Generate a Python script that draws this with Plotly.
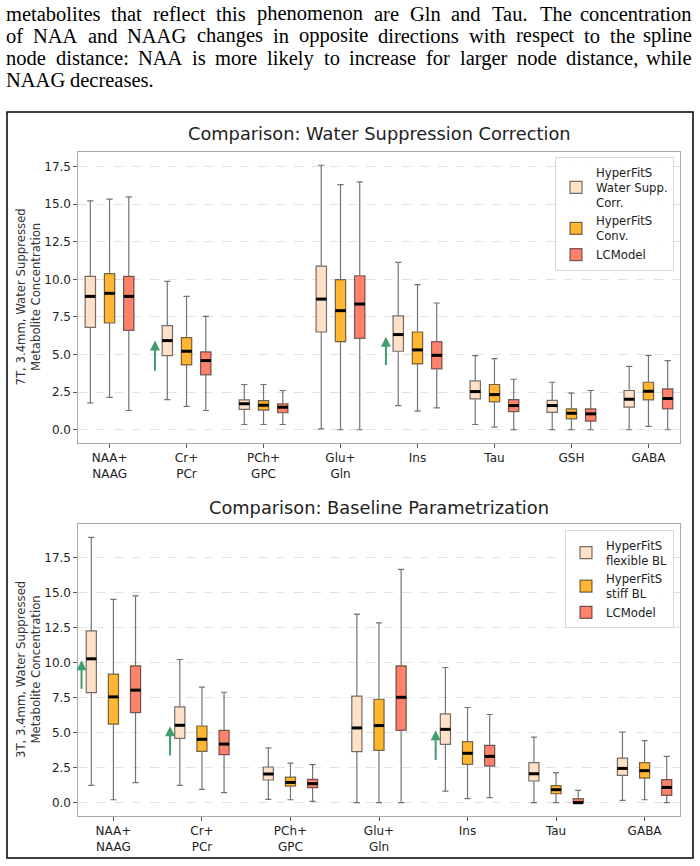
import plotly.graph_objects as go

W, H = 700, 866

# ------------------------------------------------------------------ data
para_lines = [
    "metabolites that reflect this phenomenon are Gln and Tau. The concentration",
    "of NAA and NAAG changes in opposite directions with respect to the spline",
    "node distance: NAA is more likely to increase for larger node distance, while",
    "NAAG decreases.",
]

top_title = "Comparison: Water Suppression Correction"
bot_title = "Comparison: Baseline Parametrization"
top_ylabel = "7T, 3.4mm, Water Suppressed<br>Metabolite Concentration"
bot_ylabel = "3T, 3.4mm, Water Suppressed<br>Metabolite Concentration"

top_categories = ["NAA+<br>NAAG", "Cr+<br>PCr", "PCh+<br>GPC", "Glu+<br>Gln", "Ins", "Tau", "GSH", "GABA"]
top_names = ["HyperFitS<br>Water Supp.<br>Corr.", "HyperFitS<br>Conv.", "LCModel"]

top_wsc_low = [1.79, 2.01, 0.35, 0.06, 1.61, 0.35, 0.00, 0.00]
top_wsc_q1 = [6.81, 4.93, 1.35, 6.50, 5.22, 2.06, 1.15, 1.50]
top_wsc_med = [8.87, 5.93, 1.73, 8.69, 6.33, 2.54, 1.61, 2.03]
top_wsc_q3 = [10.20, 6.92, 1.99, 10.88, 7.57, 3.25, 1.95, 2.61]
top_wsc_high = [15.22, 9.87, 3.01, 17.59, 11.13, 4.93, 3.16, 4.22]

top_conv_low = [2.16, 1.55, 0.35, 0.00, 1.24, 0.18, 0.00, 0.22]
top_conv_q1 = [7.10, 4.31, 1.30, 5.86, 4.38, 1.86, 0.73, 1.99]
top_conv_med = [9.07, 5.22, 1.63, 7.92, 5.31, 2.34, 1.10, 2.56]
top_conv_q3 = [10.38, 6.13, 1.94, 9.98, 6.50, 3.01, 1.39, 3.16]
top_conv_high = [15.33, 8.87, 3.01, 16.30, 9.65, 4.73, 2.43, 4.95]

top_lcm_low = [1.28, 1.28, 0.35, 0.00, 1.46, 0.00, 0.00, 0.00]
top_lcm_q1 = [6.61, 3.65, 1.13, 6.08, 4.05, 1.21, 0.57, 1.39]
top_lcm_med = [8.87, 4.60, 1.50, 8.36, 4.95, 1.61, 1.06, 2.08]
top_lcm_q3 = [10.20, 5.18, 1.73, 10.24, 5.86, 2.01, 1.39, 2.72]
top_lcm_high = [15.49, 7.54, 2.61, 16.48, 8.43, 3.36, 2.61, 4.60]

bot_categories = ["NAA+<br>NAAG", "Cr+<br>PCr", "PCh+<br>GPC", "Glu+<br>Gln", "Ins", "Tau", "GABA"]
bot_names = ["HyperFitS<br>flexible BL", "HyperFitS<br>stiff BL", "LCModel"]

bot_flex_low = [1.24, 1.24, 0.24, 0.00, 0.83, 0.00, 0.16]
bot_flex_q1 = [7.87, 4.60, 1.62, 3.65, 4.17, 1.55, 1.95]
bot_flex_med = [10.28, 5.53, 2.05, 5.34, 5.24, 2.07, 2.45]
bot_flex_q3 = [12.28, 6.84, 2.55, 7.61, 6.34, 2.86, 3.19]
bot_flex_high = [18.96, 10.23, 3.91, 13.47, 9.66, 4.69, 5.05]

bot_stiff_low = [0.21, 0.95, 0.21, 0.00, 0.29, 0.00, 0.21]
bot_stiff_q1 = [5.62, 3.67, 1.19, 3.74, 2.74, 0.64, 1.76]
bot_stiff_med = [7.56, 4.53, 1.45, 5.51, 3.53, 0.93, 2.29]
bot_stiff_q3 = [9.18, 5.48, 1.83, 7.39, 4.36, 1.22, 2.86]
bot_stiff_high = [14.52, 8.25, 2.83, 12.85, 6.80, 2.15, 4.44]

bot_lcm_low = [1.43, 0.72, 0.09, 0.00, 0.36, 0.00, 0.00]
bot_lcm_q1 = [6.44, 3.43, 1.07, 5.17, 2.62, 0.00, 0.52]
bot_lcm_med = [8.04, 4.19, 1.36, 7.53, 3.31, 0.00, 1.09]
bot_lcm_q3 = [9.78, 5.17, 1.67, 9.78, 4.10, 0.29, 1.65]
bot_lcm_high = [14.78, 7.89, 2.72, 16.67, 6.30, 0.88, 3.31]

# green "increase" arrows: category index, tail value, head value
top_arrow_cat = [1, 4]
top_arrow_tail = [3.82, 4.20]
top_arrow_head = [5.93, 6.19]
bot_arrow_cat = [0, 1, 4]
bot_arrow_tail = [8.04, 3.26, 2.95]
bot_arrow_head = [10.18, 5.46, 5.17]

# ------------------------------------------------------------------ style
colors = ["#FFE1C7", "#FFB733", "#FF826C"]
offsets = [-0.25, 0.0, 0.25]
FONT = "DejaVu Sans"

fig = go.Figure()


def add_panel(series, names, xa, ya, legend, width):
    for k, (low, q1, med, q3, high) in enumerate(series):
        pos = [i + offsets[k] for i in range(len(med))]
        fig.add_trace(go.Box(
            x=pos, q1=q1, median=med, q3=q3, lowerfence=low, upperfence=high,
            name=names[k], fillcolor=colors[k],
            line=dict(color="rgba(0,0,0,0.55)", width=1.2),
            width=width, whiskerwidth=0.6, boxpoints=False,
            xaxis=xa, yaxis=ya, legend=legend, hoverinfo="skip",
        ))
    for k, (low, q1, med, q3, high) in enumerate(series):
        pos = [i + offsets[k] for i in range(len(med))]
        mx, my = [], []
        for p, m in zip(pos, med):
            mx += [p - width / 2, p + width / 2, None]
            my += [m, m, None]
        fig.add_trace(go.Scatter(
            x=mx, y=my, mode="lines", line=dict(color="black", width=3),
            showlegend=False, xaxis=xa, yaxis=ya, hoverinfo="skip",
        ))


add_panel([
    (top_wsc_low, top_wsc_q1, top_wsc_med, top_wsc_q3, top_wsc_high),
    (top_conv_low, top_conv_q1, top_conv_med, top_conv_q3, top_conv_high),
    (top_lcm_low, top_lcm_q1, top_lcm_med, top_lcm_q3, top_lcm_high),
], top_names, "x", "y", "legend", 0.135)

add_panel([
    (bot_flex_low, bot_flex_q1, bot_flex_med, bot_flex_q3, bot_flex_high),
    (bot_stiff_low, bot_stiff_q1, bot_stiff_med, bot_stiff_q3, bot_stiff_high),
    (bot_lcm_low, bot_lcm_q1, bot_lcm_med, bot_lcm_q3, bot_lcm_high),
], bot_names, "x2", "y2", "legend2", 0.115)

axis_common = dict(
    showline=True, linecolor="#a8a8a8", linewidth=1.2, mirror=True,
    ticks="outside", ticklen=3.5, tickcolor="#555", tickwidth=1,
    zeroline=False, tickfont=dict(size=12, color="#222", family=FONT),
)
ygrid = dict(showgrid=True, gridcolor="#e2e2e2", griddash="dash", gridwidth=0.8,
             tick0=0, dtick=2.5, tickformat=".1f")

xdom = [78 / W, 680 / W]
fig.update_layout(
    width=W, height=H, margin=dict(l=0, r=0, t=0, b=0),
    paper_bgcolor="white", plot_bgcolor="white",
    font=dict(family=FONT, color="#222"),
    boxmode="overlay",
    xaxis=dict(domain=xdom, range=[-0.41, 7.41], tickvals=list(range(len(top_categories))),
               ticktext=top_categories, showgrid=False, anchor="y", **axis_common),
    yaxis=dict(domain=[1 - 443 / H, 1 - 152 / H], range=[-0.88, 18.47], anchor="x",
               **ygrid, **axis_common),
    xaxis2=dict(domain=xdom, range=[-0.40, 6.40], tickvals=list(range(len(bot_categories))),
                ticktext=bot_categories, showgrid=False, anchor="y2", **axis_common),
    yaxis2=dict(domain=[1 - 816 / H, 1 - 524 / H], range=[-0.95, 19.91], anchor="x2",
                **ygrid, **axis_common),
    legend=dict(x=674 / W, y=1 - 157 / H, xanchor="right", yanchor="top",
                bgcolor="rgba(255,255,255,0.9)", bordercolor="#d8d8d8", borderwidth=1,
                font=dict(size=11.7, color="#222", family=FONT), tracegroupgap=0),
    legend2=dict(x=674 / W, y=1 - 530 / H, xanchor="right", yanchor="top",
                 bgcolor="rgba(255,255,255,0.9)", bordercolor="#d8d8d8", borderwidth=1,
                 font=dict(size=11.7, color="#222", family=FONT), tracegroupgap=0),
)

annotations = []

# ---- paragraph text, justified word by word (Times/Liberation Serif advance widths)
TW = {" ": .25, ".": .25, ",": .25, ":": .278,
      "a": .444, "b": .5, "c": .444, "d": .5, "e": .444, "f": .333, "g": .5, "h": .5,
      "i": .278, "j": .278, "k": .5, "l": .278, "m": .778, "n": .5, "o": .5, "p": .5,
      "q": .5, "r": .333, "s": .389, "t": .278, "u": .5, "v": .5, "w": .722, "x": .5,
      "y": .5, "z": .444, "A": .722, "G": .722, "N": .722, "T": .611}
PSIZE = 20.5
P_LEFT, P_RIGHT = 5, 693


def tw(s):
    return sum(TW.get(ch, .5) for ch in s) * PSIZE


para_y = [13.5, 36, 58, 80]
for li, (line, yp) in enumerate(zip(para_lines, para_y)):
    words = line.split(" ")
    if li < len(para_lines) - 1:
        gap = (P_RIGHT - P_LEFT - sum(tw(w) for w in words)) / (len(words) - 1)
    else:
        gap = tw(" ")
    xpos = P_LEFT
    for wi, w in enumerate(words):
        last = (li < len(para_lines) - 1) and wi == len(words) - 1
        annotations.append(dict(text=w, x=(P_RIGHT if last else xpos) / W, y=1 - yp / H,
                                xref="paper", yref="paper",
                                xanchor="right" if last else "left", yanchor="middle",
                                showarrow=False, borderpad=0,
                                font=dict(family="Liberation Serif", size=PSIZE, color="black")))
        xpos += tw(w) + gap

# titles
for t, yp in [(top_title, 133), (bot_title, 508)]:
    annotations.append(dict(text=t, x=379 / W, y=1 - yp / H, xref="paper", yref="paper",
                            xanchor="center", yanchor="middle", showarrow=False,
                            font=dict(family=FONT, size=17.8, color="#222")))
# y labels
for t, yp in [(top_ylabel, 297.5), (bot_ylabel, 670)]:
    annotations.append(dict(text=t, x=28 / W, y=1 - yp / H, xref="paper", yref="paper",
                            xanchor="center", yanchor="middle", showarrow=False, textangle=-90,
                            font=dict(family=FONT, size=11.7, color="#333")))
# arrows
for c, t0, t1 in zip(top_arrow_cat, top_arrow_tail, top_arrow_head):
    annotations.append(dict(x=c - 0.41, y=t1, ax=c - 0.41, ay=t0, xref="x", yref="y",
                            axref="x", ayref="y", text="", showarrow=True, arrowhead=2,
                            arrowsize=1, arrowwidth=2, arrowcolor="#3f9e6b", standoff=0))
for c, t0, t1 in zip(bot_arrow_cat, bot_arrow_tail, bot_arrow_head):
    annotations.append(dict(x=c - 0.36, y=t1, ax=c - 0.36, ay=t0, xref="x2", yref="y2",
                            axref="x2", ayref="y2", text="", showarrow=True, arrowhead=2,
                            arrowsize=1, arrowwidth=2, arrowcolor="#3f9e6b", standoff=0))
fig.update_layout(annotations=annotations)

# figure frame
fig.add_shape(type="rect", xref="paper", yref="paper",
              x0=7 / W, x1=693 / W, y0=1 - 858 / H, y1=1 - 112 / H,
              line=dict(color="black", width=1.5), fillcolor="rgba(0,0,0,0)")

fig.write_html("out.html")
